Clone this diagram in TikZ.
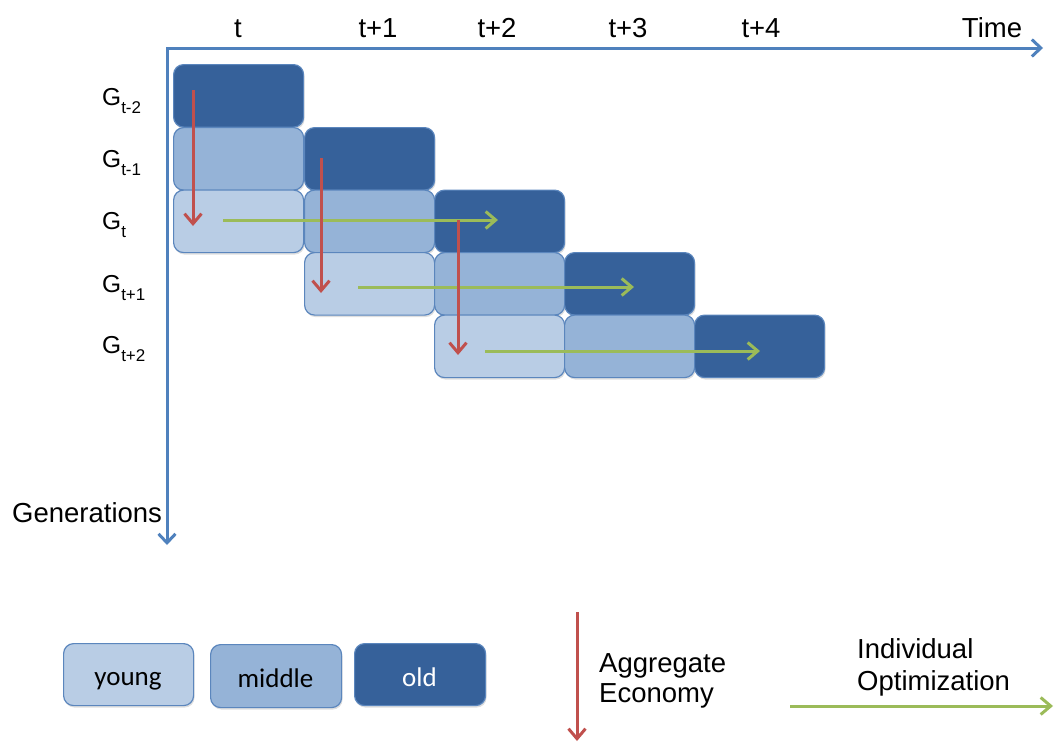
\documentclass[tikz,border=0pt]{standalone}
\usepackage{fontspec}
\setmainfont{Liberation Sans}
\newfontfamily\legfont{Carlito}
\usetikzlibrary{arrows.meta,shadows}
\definecolor{oldc}{HTML}{36619A}
\definecolor{midc}{HTML}{95B3D7}
\definecolor{youngc}{HTML}{B9CDE5}
\definecolor{edgec}{HTML}{5B86BD}
\definecolor{axisc}{HTML}{4F81BD}
\definecolor{redc}{HTML}{C0504D}
\definecolor{greenc}{HTML}{9BBB59}
\newcommand{\gsub}[1]{\raisebox{-8pt}{\fontsize{17}{19}\selectfont #1}}
\begin{document}
\begin{tikzpicture}[x=1pt,y=-1pt,
  cell/.style={draw=edgec, line width=1.2pt, rounded corners=10pt,
    minimum width=130pt, minimum height=62.5pt, inner sep=0pt, anchor=north west,
    drop shadow={shadow xshift=1pt,shadow yshift=-2pt,opacity=0.25}},
  oldbox/.style={cell, fill=oldc},
  midbox/.style={cell, fill=midc},
  youngbox/.style={cell, fill=youngc},
  lab/.style={font=\fontsize{27.5}{31}\selectfont, inner sep=0pt},
  glab/.style={font=\fontsize{24.5}{28}\selectfont, inner sep=0pt, anchor=base west},
  legtxt/.style={font=\fontsize{27}{31}\selectfont\legfont, inner sep=0pt, anchor=base},
  axis/.style={draw=axisc, line width=3pt, line join=miter,
    {Straight Barb[length=9pt,width=17pt,line width=3pt]}-{Straight Barb[length=9pt,width=17pt,line width=3pt]}},
  agg/.style={draw=redc, line width=3pt, -{Straight Barb[length=10pt,width=17pt,line width=3pt]}},
  ind/.style={draw=greenc, line width=3pt, -{Straight Barb[length=10pt,width=17pt,line width=3pt]}},
]
\useasboundingbox (0,0) rectangle (1054,744);

% axes
\coordinate (o) at (167,48);
\coordinate (tend) at (1043,48);
\coordinate (gend) at (167,545);
\draw[axis] (gend) -- (o) -- (tend);

% time labels
\node[lab, anchor=base] (t0) at (238,37) {t};
\node[lab, anchor=base] (t1) at (378,37) {t+1};
\node[lab, anchor=base] (t2) at (497,37) {t+2};
\node[lab, anchor=base] (t3) at (628,37) {t+3};
\node[lab, anchor=base] (t4) at (761,37) {t+4};
\node[lab, anchor=base] (time) at (992,37) {Time};
\node[lab, anchor=base west] (gens) at (12,522) {Generations};

% generation labels
\node[glab] (g1) at (102,105) {G\gsub{t-2}};
\node[glab] (g2) at (102,167) {G\gsub{t-1}};
\node[glab] (g3) at (102,229) {G\gsub{t}};
\node[glab] (g4) at (102,292) {G\gsub{t+1}};
\node[glab] (g5) at (102,353) {G\gsub{t+2}};

% boxes
\node[oldbox]   (r1c1) at (173,64) {};
\node[midbox]   (r2c1) at (173,127) {};
\node[oldbox]   (r2c2) at (304,127) {};
\node[youngbox] (r3c1) at (173,189.5) {};
\node[midbox]   (r3c2) at (304,189.5) {};
\node[oldbox]   (r3c3) at (434,189.5) {};
\node[youngbox] (r4c2) at (304,252) {};
\node[midbox]   (r4c3) at (434,252) {};
\node[oldbox]   (r4c4) at (564,252) {};
\node[youngbox] (r5c3) at (434,314.5) {};
\node[midbox]   (r5c4) at (564,314.5) {};
\node[oldbox]   (r5c5) at (694,314.5) {};

% arrow end points
\coordinate (a1s) at (193,90);   \coordinate (a1e) at (193,226);
\coordinate (a2s) at (321,158);  \coordinate (a2e) at (321,293);
\coordinate (a3s) at (458,220);  \coordinate (a3e) at (458,355);
\coordinate (i1s) at (223,220);  \coordinate (i1e) at (498,220);
\coordinate (i2s) at (358,287);  \coordinate (i2e) at (634,287);
\coordinate (i3s) at (485,351);  \coordinate (i3e) at (760,351);

\draw[agg] (a1s) -- (a1e);
\draw[ind] (i1s) -- (i1e);
\draw[agg] (a2s) -- (a2e);
\draw[ind] (i2s) -- (i2e);
\draw[agg] (a3s) -- (a3e);
\draw[ind] (i3s) -- (i3e);

% legend
\node[youngbox, minimum width=130pt, minimum height=62pt] (ly) at (63,643) {};
\node[legtxt] at (128,685) {young};
\node[midbox, minimum width=131pt, minimum height=63pt] (lm) at (210,644) {};
\node[legtxt] at (275.5,687) {middle};
\node[oldbox, minimum width=131pt, minimum height=62pt] (lo) at (354,643) {};
\node[legtxt, text=white] at (419.5,686) {old};

\coordinate (la1) at (577,612); \coordinate (la2) at (577,741);
\draw[agg] (la1) -- (la2);
\node[lab, anchor=base west] (aggtxt) at (599,672) {Aggregate};
\node[lab, anchor=base west] (ecotxt) at (599,702) {Economy};

\coordinate (li1) at (790,706); \coordinate (li2) at (1053,706);
\draw[ind] (li1) -- (li2);
\node[lab, anchor=base west] (indtxt) at (857,658) {Individual};
\node[lab, anchor=base west] (opttxt) at (857,690) {Optimization};
\end{tikzpicture}
\end{document}
